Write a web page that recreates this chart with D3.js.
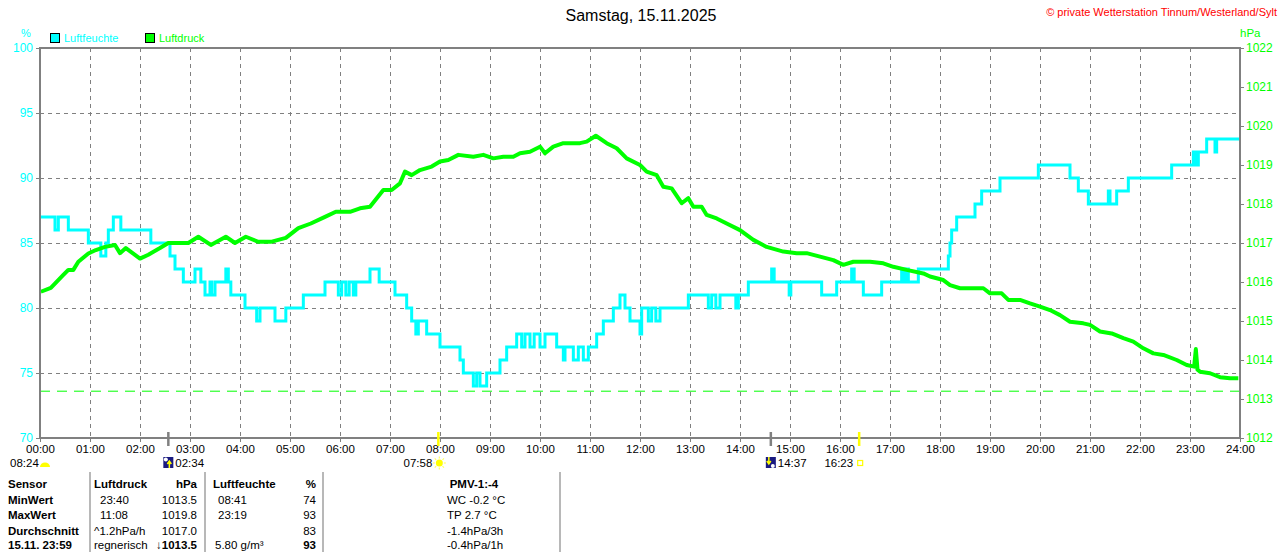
<!DOCTYPE html>
<html><head><meta charset="utf-8">
<script src="https://cdn.jsdelivr.net/npm/d3@7"></script>
<style>
html,body{margin:0;padding:0;background:#fff;}
svg{display:block;font-family:"Liberation Sans",Arial,sans-serif;}
</style></head>
<body>
<svg id="c" width="1280" height="552"></svg>
<script>
// ---------- DATA ----------
const title = "Samstag, 15.11.2025";
const copyright = "© private Wetterstation Tinnum/Westerland/Sylt";
const seriesNames = ["Luftfeuchte", "Luftdruck"];
const humTicks = [70, 75, 80, 85, 90, 95, 100];
const presTicks = [1012, 1013, 1014, 1015, 1016, 1017, 1018, 1019, 1020, 1021, 1022];
const hourTicks = d3.range(0, 25);
const refPressure = 1013.2;

// humidity (%): [minute of day, value], step changes
const humidity = [
[0,87],[18,86],[22,87],[34,86],[58,85],[73,84],[79,85],[82,86],[88,87],[97,86],[133,85],
[156,84],[162,83],[172,82],[186,83],[193,82],[198,81],[204,82],[206,81],[210,82],[223,83],
[226,82],[229,81],[246,80],[260,79],[264,80],[282,79],[295,80],[316,81],[342,82],[358,81],
[362,82],[367,81],[371,82],[376,81],[379,82],[396,83],[407,82],[426,81],[440,80],[446,79],
[451,78],[454,79],[464,78],[480,77],[504,76],[508,75],[520,74],[524,75],[528,74],[536,75],
[552,76],[560,77],[572,78],[578,77],[582,78],[588,77],[593,78],[600,77],[606,78],[620,77],
[628,76],[630,77],[640,76],[646,77],[652,76],[658,77],[668,78],[676,79],[688,80],[696,81],
[702,80],[708,79],[720,78],[722,80],[730,79],[734,80],[739,79],[744,80],[778,81],[802,80],
[806,81],[811,80],[816,81],[835,80],[838,81],[850,82],[878,83],[881,82],[899,81],[901,82],
[938,81],[956,82],[974,83],[977,82],[988,81],[1010,82],[1034,83],[1037,82],[1039,83],[1042,82],
[1054,83],[1090,84],[1092,85],[1094,86],[1100,87],[1122,88],[1130,89],[1152,90],[1198,91],
[1236,90],[1246,89],[1258,88],[1282,89],[1284,88],[1292,89],[1306,90],[1358,91],[1384,92],
[1387,91],[1390,92],[1400,93],[1410,92],[1412,93],[1440,93]
];

// pressure (hPa): [minute of day, value]
const pressure = [
[1,1015.75],[13,1015.85],[28,1016.18],[34,1016.31],[40,1016.31],[46,1016.52],[58,1016.73],
[67,1016.82],[78,1016.9],[90,1016.95],[96,1016.74],[103,1016.87],[120,1016.6],[130,1016.7],
[144,1016.87],[154,1017.0],[178,1017.0],[190,1017.16],[205,1016.95],[223,1017.16],[234,1017.0],
[247,1017.16],[262,1017.03],[277,1017.03],[295,1017.13],[310,1017.38],[325,1017.5],[342,1017.67],
[355,1017.8],[372,1017.8],[384,1017.89],[396,1017.93],[412,1018.36],[422,1018.36],[432,1018.53],
[438,1018.83],[446,1018.74],[456,1018.87],[470,1018.96],[480,1019.09],[490,1019.13],[502,1019.26],
[520,1019.21],[532,1019.26],[544,1019.17],[556,1019.21],[568,1019.21],[576,1019.3],[588,1019.34],
[600,1019.47],[606,1019.3],[616,1019.47],[628,1019.56],[648,1019.56],[656,1019.6],[667,1019.75],
[680,1019.56],[692,1019.43],[704,1019.17],[720,1019.0],[728,1018.83],[740,1018.74],[748,1018.44],
[758,1018.4],[770,1018.02],[778,1018.15],[784,1017.93],[794,1017.93],[800,1017.72],[812,1017.63],
[824,1017.5],[840,1017.33],[856,1017.08],[872,1016.9],[892,1016.78],[908,1016.74],[920,1016.74],
[936,1016.65],[952,1016.56],[964,1016.44],[976,1016.52],[996,1016.52],[1012,1016.48],[1024,1016.39],
[1040,1016.31],[1060,1016.22],[1068,1016.14],[1084,1016.05],[1092,1015.92],[1104,1015.84],
[1132,1015.84],[1140,1015.71],[1154,1015.71],[1162,1015.54],[1176,1015.54],[1188,1015.45],
[1200,1015.37],[1212,1015.28],[1224,1015.15],[1236,1014.98],[1252,1014.94],[1260,1014.9],
[1272,1014.73],[1286,1014.68],[1300,1014.56],[1312,1014.47],[1324,1014.3],[1336,1014.17],
[1348,1014.13],[1364,1014.0],[1376,1013.87],[1385,1013.83],[1387,1014.28],[1389,1013.75],
[1392,1013.7],[1404,1013.66],[1416,1013.56],[1428,1013.53],[1438,1013.53]
];

// astronomical events below the time axis
const events = [
  {time:"08:24", minute:null, kind:"daylen"},
  {time:"02:34", minute:154, kind:"moonrise"},
  {time:"07:58", minute:478, kind:"sunrise"},
  {time:"14:37", minute:877, kind:"moonset"},
  {time:"16:23", minute:983, kind:"sunset"}
];

// statistics table
const tableHeader = ["Sensor","Luftdruck","hPa","Luftfeuchte","%","PMV-1:-4"];
const tableRows = [
  ["MinWert","23:40","1013.5","08:41","74","WC -0.2 °C"],
  ["MaxWert","11:08","1019.8","23:19","93","TP 2.7 °C"],
  ["Durchschnitt","^1.2hPa/h","1017.0","","83","-1.4hPa/3h"],
  ["15.11. 23:59","regnerisch","↓1013.5","5.80 g/m³","93","-0.4hPa/1h"]
];

// ---------- DRAW ----------
const svg = d3.select("#c");
const L = 40, R = 1240, T = 48, B = 438;
const x = d3.scaleLinear().domain([0,1440]).range([L,R]);
const yH = d3.scaleLinear().domain([70,100]).range([B,T]);
const yP = d3.scaleLinear().domain([1012,1022]).range([B,T]);
const CYAN = "#00ffff", GREEN = "#00ff00", GRAY = "#808080";

// title & header texts
svg.append("text").attr("x",641).attr("y",21).attr("text-anchor","middle")
  .attr("font-size",16).attr("fill","#000").text(title);
svg.append("text").attr("x",1277).attr("y",16).attr("text-anchor","end")
  .attr("font-size",11).attr("fill","#ff0000").text(copyright);
svg.append("text").attr("x",26).attr("y",37).attr("text-anchor","middle")
  .attr("font-size",11).attr("fill",CYAN).text("%");
svg.append("text").attr("x",1240).attr("y",37)
  .attr("font-size",11.5).attr("fill",GREEN).text("hPa");

// legend
const legColors = [CYAN, GREEN];
const legX = [50, 145];
seriesNames.forEach((n,i)=>{
  svg.append("rect").attr("x",legX[i]+0.5).attr("y",33.5).attr("width",9).attr("height",9)
    .attr("fill",legColors[i]).attr("stroke","#000").attr("stroke-width",1);
  svg.append("text").attr("x",legX[i]+14).attr("y",42).attr("font-size",11)
    .attr("fill",legColors[i]).text(n);
});

// grid
const grid = svg.append("g").attr("stroke",GRAY).attr("stroke-width",1).attr("stroke-dasharray","4,4");
hourTicks.slice(1,-1).forEach(h=>{
  grid.append("line").attr("x1",x(h*60)+0.5).attr("x2",x(h*60)+0.5).attr("y1",T).attr("y2",B);
});
humTicks.slice(1,-1).forEach(v=>{
  grid.append("line").attr("x1",L).attr("x2",R).attr("y1",yH(v)+0.5).attr("y2",yH(v)+0.5);
});

// reference pressure line
svg.append("line").attr("x1",L).attr("x2",R).attr("y1",yP(refPressure)).attr("y2",yP(refPressure))
  .attr("stroke",GREEN).attr("stroke-width",1).attr("stroke-dasharray","10,7");

// axes
const axL = svg.append("g").attr("transform",`translate(${L},0)`)
  .call(d3.axisLeft(yH).tickValues(humTicks).tickSize(4).tickFormat(d3.format("d")));
axL.select(".domain").remove();
axL.selectAll("line").attr("stroke",GRAY);
axL.selectAll("text").attr("fill",CYAN).attr("font-size",12).attr("font-family","Liberation Sans, Arial, sans-serif");

const axR = svg.append("g").attr("transform",`translate(${R},0)`)
  .call(d3.axisRight(yP).tickValues(presTicks).tickSize(4).tickPadding(2).tickFormat(d3.format("d")));
axR.select(".domain").remove();
axR.selectAll("line").attr("stroke",GRAY);
axR.selectAll("text").attr("fill",GREEN).attr("font-size",12).attr("font-family","Liberation Sans, Arial, sans-serif");

const axB = svg.append("g").attr("transform",`translate(0,${B})`)
  .call(d3.axisBottom(x).tickValues(hourTicks.map(h=>h*60)).tickSize(4).tickPadding(3)
    .tickFormat(m=>d3.format("02d")(m/60)+":00"));
axB.select(".domain").remove();
axB.selectAll("line").attr("stroke",GRAY);
axB.selectAll("text").attr("fill","#000").attr("font-size",11.5).attr("font-family","Liberation Sans, Arial, sans-serif");

// series
svg.append("path").datum(humidity)
  .attr("d",d3.line().x(d=>x(d[0])).y(d=>yH(d[1])).curve(d3.curveStepAfter))
  .attr("fill","none").attr("stroke",CYAN).attr("stroke-width",3);
svg.append("path").datum(pressure)
  .attr("d",d3.line().x(d=>x(d[0])).y(d=>yP(d[1])))
  .attr("fill","none").attr("stroke",GREEN).attr("stroke-width",4).attr("stroke-linejoin","round");

// frame
svg.append("rect").attr("x",L).attr("y",T).attr("width",R-L).attr("height",B-T)
  .attr("fill","none").attr("stroke",GRAY).attr("stroke-width",2);

// event markers
events.forEach(e=>{
  if (e.minute===null) {
    svg.append("text").attr("x",10).attr("y",467).attr("font-size",11.5).attr("fill","#000").text(e.time);
    svg.append("path").attr("d","M40,467 A5,4.5 0 0 1 50,467 Z").attr("fill","#ffff00");
    return;
  }
  const px = x(e.minute);
  const isSun = e.kind.startsWith("sun");
  svg.append("line").attr("x1",px).attr("x2",px).attr("y1",432).attr("y2",446)
    .attr("stroke",isSun?"#ffff00":GRAY).attr("stroke-width",2.5);
  if (e.kind==="moonrise" || e.kind==="moonset") {
    const ix = px-5;
    svg.append("rect").attr("x",ix).attr("y",457).attr("width",10).attr("height",11).attr("fill","#1a1a80");
    svg.append("circle").attr("cx",ix+(e.kind==="moonrise"?2.5:7)).attr("cy",e.kind==="moonrise"?459.5:466).attr("r",2).attr("fill","#fff");
    svg.append("path").attr("d", e.kind==="moonrise"
        ? `M${ix+6},468 L${ix+6},462 M${ix+4},464 L${ix+6},461 L${ix+8},464`
        : `M${ix+3},457 L${ix+3},463 M${ix+1},461 L${ix+3},464 L${ix+5},461`)
      .attr("stroke","#ffff00").attr("stroke-width",1.5).attr("fill","none");
    svg.append("text").attr("x",px+7).attr("y",467).attr("font-size",11.5).attr("fill","#000").text(e.time);
  } else {
    svg.append("text").attr("x",px-6).attr("y",467).attr("text-anchor","end").attr("font-size",11.5).attr("fill","#000").text(e.time);
    if (e.kind==="sunrise") {
      const cx = px+1, cy = 463;
      svg.append("circle").attr("cx",cx).attr("cy",cy).attr("r",3.5).attr("fill","#ffff00");
      d3.range(8).forEach(k=>{
        const a = k*Math.PI/4;
        svg.append("line").attr("x1",cx+Math.cos(a)*4.5).attr("y1",cy+Math.sin(a)*4.5)
          .attr("x2",cx+Math.cos(a)*6.5).attr("y2",cy+Math.sin(a)*6.5)
          .attr("stroke","#ffff66").attr("stroke-width",1.2);
      });
    } else {
      svg.append("rect").attr("x",px-1.5).attr("y",460.5).attr("width",5).attr("height",5)
        .attr("fill","none").attr("stroke","#ffff00").attr("stroke-width",1.2);
    }
  }
});

// table separators
[90,205,323,560].forEach(sx=>{
  svg.append("line").attr("x1",sx).attr("x2",sx).attr("y1",472).attr("y2",552)
    .attr("stroke","#a0a0a0").attr("stroke-width",1.5);
});

// table text
const colX = [8, 94, 197, 213, 316, 474];
const colAnchor = ["start","start","end","start","end","middle"];
const rowY = [488, 503.5, 519, 534.5, 549];
const tg = svg.append("g").attr("font-size",11.5).attr("fill","#000");
tableHeader.forEach((t,i)=>{
  tg.append("text").attr("x",colX[i]).attr("y",rowY[0]).attr("text-anchor",colAnchor[i])
    .attr("font-weight","bold").text(t);
});
const cellDX = [0, 6, 0, 5, 0, -27];
tableRows.forEach((row,r)=>{
  row.forEach((t,i)=>{
    const last = r===tableRows.length-1;
    const bold = i===0 || (last && (i===2 || i===4));
    let dx = cellDX[i];
    if (r>=2 && i===1) dx = 0;
    if (last && i===3) dx = 2;
    tg.append("text").attr("x",colX[i]+dx).attr("y",rowY[r+1])
      .attr("text-anchor", i===5 ? "start" : colAnchor[i])
      .attr("font-weight",bold?"bold":"normal").text(t);
  });
});
</script>
</body></html>
